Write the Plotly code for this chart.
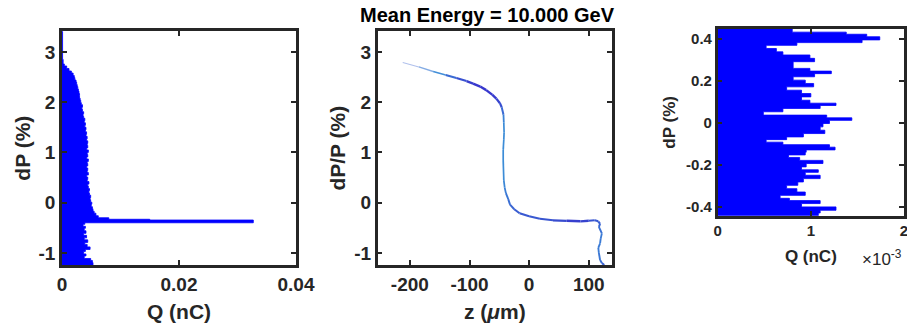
import plotly.graph_objects as go

# ---------------- data ----------------
# Panel 1: charge histogram vs dP (bin lower edges in %, charge in nC)
dp1_edges = [-1.24, -1.19, -1.15, -1.11, -1.06, -1.02, -0.97, -0.93, -0.88, -0.83,
             -0.79, -0.74, -0.70, -0.65, -0.61, -0.56, -0.51, -0.47, -0.43, -0.40,
             -0.345, -0.33, -0.30, -0.26, -0.21, -0.17, -0.12, -0.08, -0.03, 0.01,
             0.06, 0.10, 0.15, 0.19, 0.24, 0.28, 0.33, 0.37, 0.42, 0.46,
             0.51, 0.55, 0.60, 0.64, 0.69, 0.73, 0.78, 0.82, 0.87, 0.91,
             0.96, 1.00, 1.05, 1.09, 1.14, 1.18, 1.23, 1.27, 1.32, 1.36,
             1.41, 1.45, 1.50, 1.54, 1.59, 1.63, 1.68, 1.72, 1.77, 1.81,
             1.86, 1.90, 1.95, 1.99, 2.04, 2.08, 2.13, 2.17, 2.22, 2.26,
             2.31, 2.35, 2.40, 2.44, 2.49, 2.53, 2.58, 2.62, 2.67, 2.72,
             2.76, 2.85]
q1_nc = [0.0053, 0.0052, 0.0049, 0.0038, 0.0041, 0.0037, 0.0040, 0.0048, 0.0043, 0.0039,
         0.0044, 0.0038, 0.0042, 0.0037, 0.0041, 0.0038, 0.0040, 0.0036, 0.0039, 0.0327,
         0.0150, 0.0080, 0.0062, 0.0058, 0.0055, 0.0053, 0.0052, 0.0050, 0.0051, 0.0049,
         0.0048, 0.0049, 0.0047, 0.0046, 0.0047, 0.0045, 0.0044, 0.0046, 0.0043, 0.0044,
         0.0042, 0.0045, 0.0043, 0.0044, 0.0042, 0.0044, 0.0043, 0.0045, 0.0042, 0.0044,
         0.0043, 0.0045, 0.0042, 0.0044, 0.0043, 0.0044, 0.0042, 0.0043, 0.0041, 0.0042,
         0.0040, 0.0041, 0.0039, 0.0040, 0.0038, 0.0039, 0.0037, 0.0036, 0.0037, 0.0035,
         0.0034, 0.0035, 0.0033, 0.0032, 0.0031, 0.0030, 0.0030, 0.0029, 0.0028, 0.0027,
         0.0026, 0.0025, 0.0024, 0.0022, 0.0021, 0.0019, 0.0016, 0.0012, 0.0008, 0.0004,
         0.0002, 0.0001]
dp1_top = 3.41
q1_ticks = [0, 0.02, 0.04]
q1_ticklabels = ["0", "0.02", "0.04"]
dp_ticks = [-1, 0, 1, 2, 3]
dp_ticklabels = ["-1", "0", "1", "2", "3"]

# Panel 2: longitudinal phase space (z in um, dP/P in %)
z_um = [-212, -185, -161, -140, -122, -105, -94, -82, -72, -62,
        -55, -49, -46, -43, -42.5, -42, -42.5, -43.5, -43.5, -43,
        -42.5, -41, -39, -35, -32, -25, -16, 0, 18, 40,
        63, 86, 100, 110, 116, 119, 117, 122, 120, 119,
        116, 117, 119, 122, 126]
dpp_pct = [2.79, 2.70, 2.61, 2.54, 2.48, 2.42, 2.37, 2.31, 2.24, 2.15,
           2.07, 1.98, 1.90, 1.75, 1.60, 1.40, 1.25, 1.05, 0.85, 0.65,
           0.45, 0.30, 0.19, 0.07, -0.04, -0.13, -0.21, -0.27, -0.32, -0.35,
           -0.36, -0.37, -0.36, -0.35, -0.37, -0.42, -0.48, -0.61, -0.72, -0.81,
           -0.90, -1.00, -1.14, -1.20, -1.24]
# relative particle density along the curve (qualitative, read from shading)
density = [0.05, 0.15, 0.35, 0.6, 0.8, 0.9, 1.0, 1.0, 1.0, 1.0,
           0.95, 0.9, 0.8, 0.6, 0.5, 0.5, 0.5, 0.5, 0.5, 0.5,
           0.5, 0.55, 0.6, 0.65, 0.7, 0.75, 0.8, 0.8, 0.8, 0.85,
           0.9, 1.0, 0.85, 0.8, 0.8, 0.75, 0.7, 0.6, 0.6, 0.6,
           0.6, 0.6, 0.65, 0.7, 0.8]
z_ticks = [-200, -100, 0, 100]
z_ticklabels = ["-200", "-100", "0", "100"]

# Panel 3: zoomed histogram (bin lower edges in %, charge in 1e-3 nC)
dp3_edges = [-0.443, -0.430, -0.417, -0.401, -0.385, -0.371, -0.360, -0.346, -0.330, -0.314,
             -0.298, -0.282, -0.266, -0.250, -0.236, -0.224, -0.210, -0.194, -0.179, -0.165,
             -0.153, -0.140, -0.129, -0.116, -0.104, -0.092, -0.080, -0.067, -0.051, -0.035,
             -0.019, -0.003, 0.012, 0.024, 0.037, 0.053, 0.069, 0.083, 0.094, 0.108,
             0.124, 0.140, 0.156, 0.172, 0.188, 0.204, 0.220, 0.235, 0.247, 0.260,
             0.276, 0.292, 0.308, 0.324, 0.339, 0.355, 0.370, 0.383, 0.396, 0.411,
             0.423, 0.433]
q3_milli_nc = [1.08, 1.10, 1.27, 0.90, 1.10, 0.77, 0.67, 0.94, 0.85, 0.74,
               0.86, 0.92, 1.10, 0.94, 1.08, 0.90, 0.95, 1.13, 0.88, 0.76,
               0.94, 0.95, 1.26, 1.20, 0.70, 0.52, 0.74, 0.92, 1.15, 1.10,
               1.13, 1.20, 1.44, 1.17, 0.49, 0.70, 1.10, 1.27, 0.99, 0.90,
               1.00, 0.90, 0.74, 1.03, 0.94, 0.81, 1.04, 1.22, 0.99, 0.81,
               0.81, 1.04, 0.99, 0.70, 0.63, 0.52, 0.85, 1.55, 1.74, 1.60,
               1.38, 0.80]
dp3_top = 0.448
q3_ticks = [0, 1, 2]
q3_ticklabels = ["0", "1", "2"]
dp3_ticks = [-0.4, -0.2, 0, 0.2, 0.4]
dp3_ticklabels = ["-0.4", "-0.2", "0", "0.2", "0.4"]

# ---------------- styling ----------------
FONT = "Liberation Sans"
AX = "#262626"
BLUE = "#0000FF"
W, H = 907, 328


def px_dom_x(a, b):
    return [a / W, b / W]


def px_dom_y(top, bottom):
    return [1 - bottom / H, 1 - top / H]


def step_outline(edges, values, top):
    """Closed outline of a horizontal histogram (bars grow from x=0)."""
    xs, ys = [0], [edges[0]]
    uppers = edges[1:] + [top]
    for lo, hi, v in zip(edges, uppers, values):
        xs += [v, v]
        ys += [lo, hi]
    xs.append(0)
    ys.append(top)
    return xs, ys


fig = go.Figure()

# Panel 1 histogram
hx, hy = step_outline(dp1_edges, q1_nc, dp1_top)
fig.add_trace(go.Scatter(
    x=hx, y=hy, mode="lines", line=dict(color=BLUE, width=0.8, simplify=False),
    fill="toself", fillcolor=BLUE, xaxis="x", yaxis="y", showlegend=False,
    hoverinfo="skip"))


# Panel 2 curve, coloured by density
def shade(d):
    if d < 0.5:
        t = d / 0.5
        c0, c1 = (205, 205, 242), (60, 140, 215)
    else:
        t = (d - 0.5) / 0.5
        c0, c1 = (60, 140, 215), (55, 55, 205)
    r, g, b = [int(c0[i] + (c1[i] - c0[i]) * t) for i in range(3)]
    return f"rgb({r},{g},{b})"


for i in range(len(z_um) - 1):
    d = 0.5 * (density[i] + density[i + 1])
    fig.add_trace(go.Scatter(
        x=z_um[i:i + 2], y=dpp_pct[i:i + 2], mode="lines",
        line=dict(color=shade(d), width=1.0 + 1.4 * d),
        xaxis="x2", yaxis="y2", showlegend=False, hoverinfo="skip"))

# Panel 3 zoomed histogram
hx3, hy3 = step_outline(dp3_edges, q3_milli_nc, dp3_top)
fig.add_trace(go.Scatter(
    x=hx3, y=hy3, mode="lines", line=dict(color=BLUE, width=0.8, simplify=False),
    fill="toself", fillcolor=BLUE, xaxis="x3", yaxis="y3", showlegend=False,
    hoverinfo="skip"))


def axis_common(size):
    return dict(showline=True, linecolor=AX, linewidth=2.5, mirror="allticks",
                ticks="inside", ticklen=5, tickwidth=2, tickcolor=AX,
                showgrid=False, zeroline=False, automargin=False,
                ticklabeloverflow="allow",
                tickfont=dict(family=FONT, size=size, color=AX, weight="bold"))


def title_font(size):
    return dict(family=FONT, size=size, color=AX, weight="bold")


big_tick, big_lab = 19, 21
sm_tick, sm_lab = 15, 17

fig.update_layout(
    width=W, height=H, margin=dict(l=0, r=0, t=0, b=0, autoexpand=False),
    paper_bgcolor="white", plot_bgcolor="white",
    xaxis=dict(domain=px_dom_x(62, 296), range=[0, 0.04], tickvals=q1_ticks,
               ticktext=q1_ticklabels, anchor="y",
               title=dict(text="Q (nC)", standoff=11, font=title_font(big_lab)),
               **axis_common(big_tick)),
    yaxis=dict(domain=px_dom_y(31.3, 265), range=[-1.24, 3.41], tickvals=dp_ticks,
               ticktext=dp_ticklabels, anchor="x",
               title=dict(text="dP (%)", standoff=3, font=title_font(big_lab)),
               **axis_common(big_tick)),
    xaxis2=dict(domain=px_dom_x(377.7, 612), range=[-254, 139], tickvals=z_ticks,
                ticktext=z_ticklabels, anchor="y2",
                title=dict(text="z (<i>μ</i>m)", standoff=11, font=title_font(big_lab)),
                **axis_common(big_tick)),
    yaxis2=dict(domain=px_dom_y(31.3, 265), range=[-1.24, 3.41], tickvals=dp_ticks,
                ticktext=dp_ticklabels, anchor="x2",
                title=dict(text="dP/P (%)", standoff=3, font=title_font(big_lab)),
                **axis_common(big_tick)),
    xaxis3=dict(domain=px_dom_x(717.7, 904), range=[0, 2], tickvals=q3_ticks,
                ticktext=q3_ticklabels, anchor="y3",
                title=dict(text="Q (nC)", standoff=12, font=title_font(sm_lab)),
                **axis_common(sm_tick)),
    yaxis3=dict(domain=px_dom_y(29, 215.7), range=[-0.443, 0.448],
                tickvals=dp3_ticks, ticktext=dp3_ticklabels, anchor="x3",
                title=dict(text="dP (%)", standoff=7, font=title_font(sm_lab)),
                **axis_common(sm_tick)),
    annotations=[
        dict(text="Mean Energy = 10.000 GeV", x=488 / W, y=1 - 15 / H, xref="paper",
             yref="paper", xanchor="center", yanchor="middle", showarrow=False,
             font=dict(family=FONT, size=20, color="black", weight="bold")),
        dict(text="×10<sup>-3</sup>", x=882 / W, y=1 - 258 / H, xref="paper",
             yref="paper", xanchor="center", yanchor="middle", showarrow=False,
             font=dict(family=FONT, size=17, color=AX)),
    ],
)

fig.write_html("out.html")
